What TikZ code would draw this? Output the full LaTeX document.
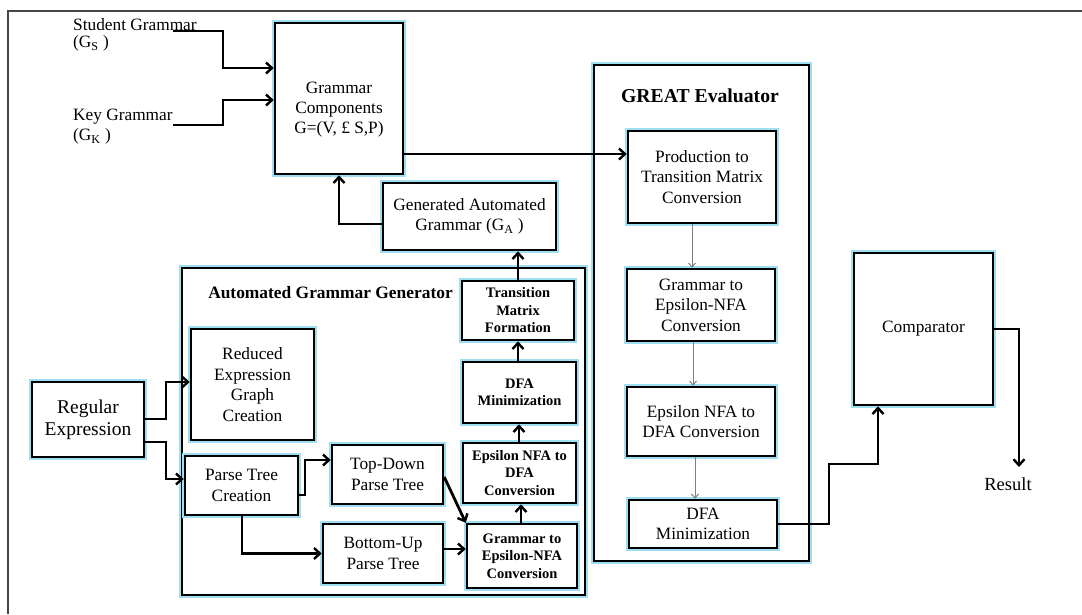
\documentclass[tikz,border=0pt]{standalone}
\usepackage{fontspec}
\setmainfont{Liberation Serif}
\usetikzlibrary{arrows.meta,calc}
\definecolor{halo}{RGB}{160,222,242}
\definecolor{frame}{RGB}{70,70,70}
\begin{document}
\begin{tikzpicture}[x=1pt,y=-1pt,
 box/.style={draw=black, line width=2.5pt, fill=white, preaction={draw=halo, line width=6.5pt}, inner sep=0pt, align=center, font=\fontsize{17.3}{20.5}\selectfont},
 sbox/.style={box, font=\fontsize{14.5}{17.5}\selectfont\bfseries},
 conn/.style={line width=2.8pt, line join=miter, -{Straight Barb[length=6pt,width=11pt,line width=2.4pt]}},
 thinarr/.style={draw=gray, line width=1pt, -{Straight Barb[length=4pt,width=7pt,line width=1pt]}},
 lbl/.style={inner sep=0pt, align=left, font=\fontsize{17.3}{17}\selectfont},
]
\useasboundingbox (0,0) rectangle (1082,614);
% outer frame
\draw[frame, line width=1.5pt] (8,614) -- (8,11) -- (1082,11);

% containers
\node[box, minimum width=215pt, minimum height=496pt] (ge) at (701.5,313) {};
\node[font=\fontsize{19.7}{24}\selectfont\bfseries, inner sep=0pt] (getitle) at (700,96) {GREAT Evaluator};
\node[box, minimum width=403pt, minimum height=327pt] (agg) at (383.5,431.5) {};
\node[font=\fontsize{17.4}{20}\selectfont\bfseries, inner sep=0pt] (aggtitle) at (330.5,293) {Automated Grammar Generator};

% top boxes
\node[box, minimum width=128pt, minimum height=151pt] (gc) at (339,98.5) {};
\node[lbl, align=center, font=\fontsize{17.3}{20}\selectfont] (gct) at (339,110) {Grammar\\Components\\G=(V, £ S,P)};
\node[box, minimum width=173pt, minimum height=67pt] (gag) at (469.5,216.5) {Generated Automated\\Grammar (G\textsubscript{A} )};

% GREAT evaluator boxes
\node[box, minimum width=148pt, minimum height=92pt] (pt) at (702,177) {Production to\\Transition Matrix\\Conversion};
\node[box, minimum width=148pt, minimum height=72pt] (g2e) at (701,305) {Grammar to\\Epsilon-NFA\\Conversion};
\node[box, minimum width=148pt, minimum height=69pt] (e2d) at (701,421.5) {Epsilon NFA to\\DFA Conversion};
\node[box, minimum width=148pt, minimum height=48pt] (dm) at (703,524) {DFA\\Minimization};
\node[box, minimum width=139pt, minimum height=152pt] (comp) at (923.5,329) {Comparator};
\node[inner sep=0pt, font=\fontsize{18.5}{20}\selectfont] (res) at (1008,484) {Result};

% left part
\node[box, minimum width=112pt, minimum height=75pt, font=\fontsize{19.5}{22}\selectfont] (re) at (88,419.5) {Regular\\Expression};
\node[box, minimum width=123pt, minimum height=111pt] (red) at (252.5,384.5) {Reduced\\Expression\\Graph\\Creation};
\node[box, minimum width=113pt, minimum height=59pt] (ptc) at (241.5,485.5) {Parse Tree\\Creation};
\node[box, minimum width=111pt, minimum height=59pt] (td) at (387.5,474.5) {Top-Down\\Parse Tree};
\node[box, minimum width=120pt, minimum height=59pt] (bu) at (383,553.5) {Bottom-Up\\Parse Tree};
\node[sbox, minimum width=110pt, minimum height=64pt] (ag2e) at (522,556) {Grammar to\\Epsilon-NFA\\Conversion};
\node[sbox, minimum width=113pt, minimum height=60pt] (ae2d) at (519.5,473) {Epsilon NFA to\\DFA\\Conversion};
\node[sbox, minimum width=113pt, minimum height=61pt] (adm) at (519.5,392.5) {DFA\\Minimization};
\node[sbox, minimum width=112pt, minimum height=59pt] (tmf) at (518,310.5) {Transition\\Matrix\\Formation};

% input labels
\node[lbl, anchor=west, font=\fontsize{17.3}{16.5}\selectfont] (sgl) at (73,35) {Student Grammar\\(G\textsubscript{S} )};
\node[lbl, anchor=west, font=\fontsize{17.3}{20}\selectfont] (kgl) at (73,127) {Key Grammar\\(G\textsubscript{K} )};
\coordinate (sg) at (173,31);
\coordinate (kg) at (173,125);
\coordinate (rtip) at (1019,467);

% connectors
\draw[conn] (sg) -- (223,31) |- (gc.west |- 0,68);
\draw[conn] (kg) -- (223,125) |- (gc.west |- 0,100);
\draw[conn] (gag.west |- 0,224) -| (gc.south);
\draw[conn] (gc.east |- 0,154) -- (pt.west |- 0,154);
\draw[thinarr] (692,0 |- pt.south) -- (692,0 |- g2e.north);
\draw[thinarr] (693,0 |- g2e.south) -- (693,0 |- e2d.north);
\draw[thinarr] (695,0 |- e2d.south) -- (695,0 |- dm.north);
\draw[conn] (dm.east |- 0,524) -- (829,524) -- (829,464) -| (878,0 |- comp.south);
\draw[conn] (comp.east) -| (rtip);
\draw[conn] (re.east |- 0,419) -- (166,419) |- (red.west |- 0,382);
\draw[conn] (re.east |- 0,442) -- (166,442) |- (ptc.west |- 0,479);
\draw[conn] (ptc.east |- 0,495) -- (305,495) |- (td.west |- 0,460);
\draw[conn] (242,0 |- ptc.south) |- (bu.west);
\draw[conn] (td.east |- 0,477) -- (ag2e.north west);
\draw[conn] (bu.east |- 0,549) -- (ag2e.west |- 0,549);
\draw[conn] (521,0 |- ag2e.north) -- (521,0 |- ae2d.south);
\draw[conn] (519,0 |- ae2d.north) -- (519,0 |- adm.south);
\draw[conn] (518,0 |- adm.north) -- (518,0 |- tmf.south);
\draw[conn] (518,0 |- tmf.north) -- (518,0 |- gag.south);
\end{tikzpicture}
\end{document}
